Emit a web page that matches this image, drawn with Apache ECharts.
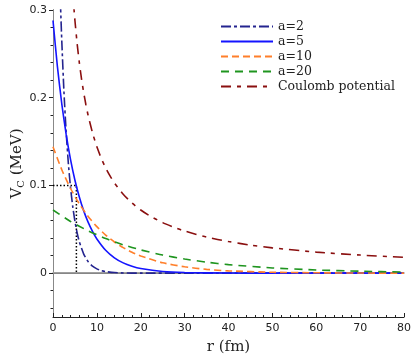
<!DOCTYPE html>
<html>
<head>
<meta charset="utf-8">
<script src="https://cdn.jsdelivr.net/npm/echarts@6/dist/echarts.min.js"></script>
<style>
html,body{margin:0;padding:0;background:#fff;}
#c{width:416px;height:360px;}
</style>
</head>
<body>
<div id="c"></div>
<script>
// ---- data ----
var names = ['a=2', 'a=5', 'a=10', 'a=20', 'Coulomb potential'];

var rA2 = [0, 1, 1.5, 1.75, 2, 2.5, 3, 3.5, 4, 4.5, 5, 5.5, 6, 7, 8, 9, 10, 11, 12, 14, 16, 20, 30, 40, 50, 60, 70, 80];
var vA2 = [0.72, 0.4367, 0.3401, 0.3002, 0.2649, 0.2063, 0.1607, 0.1251, 0.0974, 0.0759, 0.0591, 0.0460, 0.0358, 0.0217, 0.0132, 0.0080, 0.0049, 0.0029, 0.0018, 0.0007, 0.0002, 0, 0, 0, 0, 0, 0, 0];

var rA5 = [0, 1, 2, 3, 4, 5, 6, 7, 8, 9, 10, 12, 14, 16, 18, 20, 25, 30, 40, 50, 60, 70, 80];
var vA5 = [0.288, 0.2358, 0.1931, 0.1581, 0.1294, 0.1059, 0.0868, 0.0710, 0.0581, 0.0476, 0.0390, 0.0261, 0.0175, 0.0117, 0.0079, 0.0053, 0.0019, 0.0007, 0.0001, 0, 0, 0, 0];

var rA10 = [0, 2, 4, 6, 8, 10, 12, 14, 16, 18, 20, 25, 30, 35, 40, 50, 60, 70, 80];
var vA10 = [0.144, 0.1179, 0.0965, 0.0790, 0.0647, 0.0530, 0.0434, 0.0355, 0.0291, 0.0238, 0.0195, 0.0118, 0.0072, 0.0043, 0.0026, 0.0010, 0.0004, 0.0001, 0.00005];

var rA20 = [0, 4, 8, 12, 16, 20, 25, 30, 35, 40, 50, 60, 70, 80];
var vA20 = [0.072, 0.0589, 0.0483, 0.0395, 0.0323, 0.0265, 0.0206, 0.0161, 0.0125, 0.0097, 0.0059, 0.0036, 0.0022, 0.0013];

var rCoul = [4.5, 4.8, 5, 5.5, 6, 6.5, 7, 7.5, 8, 9, 10, 11, 12, 13, 14, 16, 18, 20, 22, 25, 28, 30, 35, 40, 45, 50, 60, 70, 80];
var vCoul = [0.32, 0.30, 0.288, 0.2618, 0.24, 0.2215, 0.2057, 0.192, 0.18, 0.16, 0.144, 0.1309, 0.12, 0.1108, 0.1029, 0.09, 0.08, 0.072, 0.0655, 0.0576, 0.0514, 0.048, 0.0411, 0.036, 0.032, 0.0288, 0.024, 0.0206, 0.018];

var zeroLineR = [0, 80];
var zeroLineV = [0, 0];
var guideR = [0, 5.33, 5.33];
var guideV = [0.1, 0.1, 0];

var yLabelValues = [0, 0.1, 0.2, 0.3];
var yMajorTicks = [0, 0.1, 0.2, 0.3];
var yMinorTicks = [-0.04, -0.02, 0.02, 0.04, 0.06, 0.08, 0.12, 0.14, 0.16, 0.18, 0.22, 0.24, 0.26, 0.28];

// ---- build ----
function zip(a, b) { return a.map(function (x, i) { return [x, b[i]]; }); }

var colors = ['#24248f', '#1414ff', '#ff7f2a', '#1f951f', '#8a0f0f'];
var dashes = [[10, 3, 3, 3], 'solid', [7, 4], [8, 6], [10, 6, 4, 6]];
var datas = [zip(rA2, vA2), zip(rA5, vA5), zip(rA10, vA10), zip(rA20, vA20), zip(rCoul, vCoul)];

var series = names.map(function (n, i) {
  return {
    name: n, type: 'line', data: datas[i], showSymbol: false, symbol: 'none',
    smooth: 0.2, clip: true, z: 3,
    lineStyle: { color: colors[i], width: 1.6, type: dashes[i] },
    itemStyle: { color: colors[i] }
  };
});
series.unshift({
  name: 'zero', type: 'line', data: zip(zeroLineR, zeroLineV), showSymbol: false, symbol: 'none',
  silent: true, z: 1, lineStyle: { color: '#666', width: 1 }
});
series.push({
  name: 'guide', type: 'line', data: zip(guideR, guideV), showSymbol: false, symbol: 'none',
  silent: true, z: 2, lineStyle: { color: '#000', width: 1.5, type: [1.5, 2] }
});

var tickFont = { fontFamily: 'DejaVu Sans', fontSize: 11, color: '#222' };
var serif = 'DejaVu Serif';

var chart = echarts.init(document.getElementById('c'), null, { renderer: 'canvas' });
chart.setOption({
  animation: false,
  backgroundColor: '#fff',
  grid: { left: 53, right: 12, top: 10, bottom: 43, show: false, outerBoundsMode: 'none', containLabel: false },
  legend: {
    data: names,
    orient: 'vertical', left: 215, top: 15,
    itemWidth: 52, itemHeight: 10, itemGap: 2,
    itemStyle: { opacity: 0, borderWidth: 0 },
    textStyle: { fontFamily: serif, fontSize: 12.5, color: '#222', lineHeight: 12 }
  },
  xAxis: [{
    type: 'value', min: 0, max: 80, interval: 10, position: 'bottom',
    name: 'r (fm)', nameLocation: 'middle', nameGap: 23, nameMoveOverlap: false,
    nameTextStyle: { fontFamily: serif, fontSize: 15, color: '#222' },
    axisLine: { show: true, onZero: false, lineStyle: { color: '#222', width: 1 } },
    axisTick: { show: true, inside: true, length: 4, lineStyle: { color: '#222' } },
    minorTick: { show: true, splitNumber: 5, length: 2, lineStyle: { color: '#222' } },
    axisLabel: Object.assign({ margin: 6 }, tickFont),
    splitLine: { show: false }
  }, {
    type: 'value', min: 0, max: 80, position: 'top',
    axisLine: { show: true, lineStyle: { color: '#c0c0c0', width: 2 } },
    axisTick: { show: false }, axisLabel: { show: false }, splitLine: { show: false }
  }],
  yAxis: [{
    type: 'value', min: -0.05, max: 0.3, position: 'left',
    name: '{v|V}{s|C}{v| (MeV)}', nameLocation: 'middle', nameGap: 27, nameRotate: 90, nameMoveOverlap: false,
    nameTextStyle: {
      rich: {
        v: { fontFamily: serif, fontSize: 15, color: '#222' },
        s: { fontFamily: serif, fontSize: 10, color: '#222', verticalAlign: 'bottom', padding: [8, 0, 0, 0] }
      }
    },
    axisLine: { show: true, onZero: false, lineStyle: { color: '#222', width: 1 } },
    axisTick: { show: true, length: 4, customValues: yMajorTicks, lineStyle: { color: '#222' } },
    axisLabel: Object.assign({ margin: 6, customValues: yLabelValues, formatter: function (v) { return v === 0 ? '0' : String(+v.toFixed(2)); } }, tickFont),
    splitLine: { show: false }
  }, {
    type: 'value', min: -0.05, max: 0.3, position: 'left',
    axisLine: { show: false },
    axisTick: { show: true, length: 2.5, customValues: yMinorTicks, lineStyle: { color: '#222' } },
    axisLabel: { show: false }, splitLine: { show: false }
  }, {
    type: 'value', min: -0.05, max: 0.3, position: 'right',
    axisLine: { show: true, lineStyle: { color: '#888', width: 1 } },
    axisTick: { show: false }, axisLabel: { show: false }, splitLine: { show: false }
  }],
  series: series
});
</script>
</body>
</html>
